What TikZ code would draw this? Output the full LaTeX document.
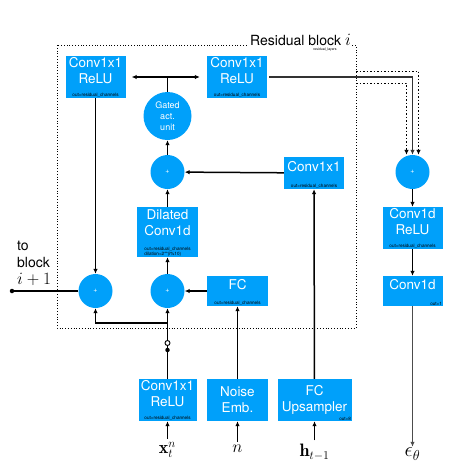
\documentclass[tikz,border=0pt]{standalone}
\usepackage{amsmath}
\usepackage{fontspec}
\setsansfont{TeX Gyre Heros}
\usetikzlibrary{arrows.meta,shapes.geometric,positioning}
\definecolor{blockblue}{RGB}{0,160,250}

\begin{document}
\begin{tikzpicture}[x=1pt,y=-1pt]
	\tikzset{layerbox/.style={fill=blockblue,text=white,align=center,inner sep=0pt,font=\sffamily\fontsize{13.5}{16}\selectfont}}
	\tikzset{opnode/.style={circle,fill=blockblue,text=white,inner sep=0pt,minimum size=34pt,font=\sffamily\fontsize{7}{8}\selectfont}}
	\tikzset{tinytext/.style={font=\sffamily\fontsize{4.6}{5}\selectfont,text=black,align=left,inner sep=0.6pt}}
	\tikzset{flow/.style={-{Latex[length=5pt,width=4.5pt]},line width=1.5pt}}
	\useasboundingbox (0,0) rectangle (455,469);
	% residual block frame
	\draw[dotted,line width=0.8pt] (57,45) rectangle (356,328);
	\node[fill=white,anchor=base east,inner sep=1pt,font=\sffamily\fontsize{14}{16}\selectfont] (title) at (352,45) {Residual block \fontsize{16}{16}\selectfont$i$};
	\node[tinytext,anchor=north,font=\sffamily\fontsize{3.5}{4}\selectfont] (layers) at (325,47) {residual\_layers};
	% layers inside the block
	\node[layerbox,minimum width=60pt,minimum height=42pt,label={[tinytext,anchor=south]south:out=residual\_channels}] (convA) at (95.5,77) {Conv1x1\\ReLU\\[-2pt]};
	\node[layerbox,minimum width=60pt,minimum height=42pt,label={[tinytext,anchor=south]south:out=residual\_channels}] (convB) at (237,77) {Conv1x1\\ReLU\\[-2pt]};
	\node[opnode,minimum size=48pt,align=center,font=\sffamily\fontsize{9}{11}\selectfont] (gate) at (167.5,116) {Gated\\act.\\unit};
	\node[opnode] (plusA) at (167.5,172) {+};
	\node[layerbox,minimum width=60pt,minimum height=32pt,label={[tinytext,anchor=south]south:out=residual\_channels}] (convC) at (314,173) {Conv1x1\\[-2pt]};
	\node[layerbox,minimum width=61pt,minimum height=50pt,label={[tinytext,anchor=south]south:out=residual\_channels\\dilation=2**(i\%10)}] (dil) at (167.5,232) {Dilated\\Conv1d\\[2pt]};
	\node[opnode] (plusL) at (95.5,291) {+};
	\node[opnode] (plusM) at (167.5,291) {+};
	\node[layerbox,minimum width=61pt,minimum height=30pt,label={[tinytext,anchor=south]south:out=residual\_channels}] (fc) at (237.5,291) {FC\\[-2pt]};
	% inputs
	\node[layerbox,minimum width=58pt,minimum height=42pt,label={[tinytext,anchor=south]south:out=residual\_channels}] (convIn) at (167.5,400) {Conv1x1\\ReLU\\[-2pt]};
	\node[layerbox,minimum width=61pt,minimum height=42pt] (noise) at (237.5,400) {Noise\\Emb.};
	\node[layerbox,minimum width=74pt,minimum height=42pt,label={[tinytext,anchor=south east]south east:out=8}] (upsamp) at (314.5,400) {FC\\Upsampler};
	\node[font=\fontsize{18}{20}\selectfont] (xin) at (167.5,450) {$\mathbf{x}_t^n$};
	\node[font=\fontsize{18}{20}\selectfont] (nin) at (237.5,449) {$n$};
	\node[font=\fontsize{18}{20}\selectfont] (hin) at (314.5,452) {$\mathbf{h}_{t-1}$};
	% output stack
	\node[opnode] (plusR) at (412.5,172) {+};
	\node[layerbox,minimum width=60pt,minimum height=42pt,label={[tinytext,anchor=south]south:out=residual\_channels}] (convR) at (412.5,228) {Conv1d\\ReLU\\[-2pt]};
	\node[layerbox,minimum width=60pt,minimum height=30pt,label={[tinytext,anchor=south east]south east:out=1}] (convOut) at (412.5,291) {Conv1d\\[-2pt]};
	\node[font=\fontsize{21}{22}\selectfont,inner sep=1pt] (eps) at (412.5,454) {$\epsilon_\theta$};
	\node[anchor=north west,align=left,inner sep=0pt,font=\sffamily\fontsize{14}{17}\selectfont] (next) at (17,241) {to\\block\\\fontsize{16}{18}\selectfont$i+1$};
	\node[circle,fill,inner sep=0pt,minimum size=4.5pt] (outdot) at (12,291) {};
	\node[circle,fill,inner sep=0pt,minimum size=4.5pt] (skipf) at (167.5,350) {};
	\node[circle,draw,fill=white,inner sep=0pt,minimum size=5pt,line width=0.9pt] (skipo) at (167.5,343) {};
	\coordinate (br) at (167.5,323);
	\coordinate (skipa) at (356,71);
	\coordinate (skipb) at (356,83);
	% connectors
	\draw[{Latex[length=5pt,width=4.5pt]}-{Latex[length=5pt,width=4.5pt]},line width=1.5pt,shorten <=6pt,shorten >=7pt] (convA) -- (convB);
	\draw[line width=1.5pt] (gate.north) -- (gate.north |- convA.east);
	\draw[flow] (plusA) -- (gate);
	\draw[flow] (convC) -- (plusA);
	\draw[flow] (dil) -- (plusA);
	\draw[flow] (plusM) -- (dil);
	\draw[flow] (fc) -- (plusM);
	\draw[flow] (convA) -- (plusL);
	\draw[line width=1.5pt] (plusL) -- (outdot);
	\draw[line width=1.5pt] (convIn) -- (skipf);
	\draw[line width=1.5pt] (skipf) -- (skipo);
	\draw[flow] (skipo) -- (plusM);
	\draw[flow] (br) -| (plusL);
	\draw[flow] (noise) -- (fc);
	\draw[flow] (upsamp) -- (convC);
	\draw[flow] (xin) -- (convIn);
	\draw[flow] (nin) -- (noise);
	\draw[flow] (hin) -- (upsamp);
	\draw[flow,black!80] ([xshift=2pt]convB.east) -| (plusR);
	\draw[flow,dotted,line width=0.9pt] (skipa) -| ([xshift=6pt]plusR.north);
	\draw[flow,dotted,line width=0.9pt] (skipb) -| ([xshift=-6pt]plusR.north);
	\draw[flow] (plusR) -- (convR);
	\draw[flow] (convR) -- (convOut);
	\draw[flow,black!70,line width=1.8pt] (convOut) -- (eps);
\end{tikzpicture}
\end{document}
